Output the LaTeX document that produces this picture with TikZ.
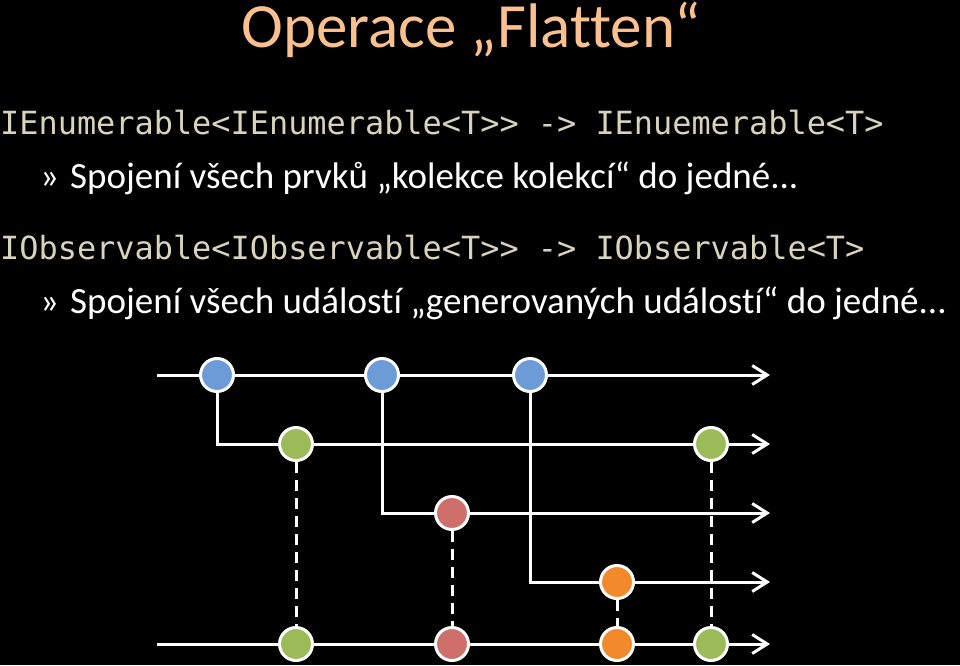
\documentclass[tikz,border=0pt]{standalone}
\usepackage{fontspec}
\setmainfont{Carlito}[Ligatures={TeX,NoCommon}]
\setmonofont{DejaVu Sans Mono}
\usetikzlibrary{arrows.meta,backgrounds}

\definecolor{titleorange}{HTML}{FAC090}
\definecolor{codetan}{HTML}{D8D4BC}
\definecolor{evblue}{HTML}{6C9BD8}
\definecolor{evgreen}{HTML}{9BBB59}
\definecolor{evred}{HTML}{CF6F6C}
\definecolor{evorange}{HTML}{F28A2C}

\begin{document}
\begin{tikzpicture}[x=1pt, y=-1pt,
    ev/.style={circle, draw=white, line width=3pt, minimum size=33pt, inner sep=0pt},
    flow/.style={draw=white, line width=3pt, -{Straight Barb[length=15pt,width=19pt]}},
    link/.style={draw=white, line width=3pt, dash pattern=on 11pt off 7pt},
    sig/.style={anchor=base west, inner sep=0pt, text=codetan, font=\ttfamily\fontsize{31.9}{36}\selectfont},
    item/.style={anchor=base west, inner sep=0pt, text=white, font=\fontsize{37}{44}\selectfont}]
    \useasboundingbox (0,0) rectangle (960,665);

    % texts
    \node[anchor=base, inner sep=0pt, text=titleorange, font=\fontsize{63}{70}\selectfont] (title) at (471,47) {Operace „Flatten“};
    \node[sig] (sigenum) at (0,134) {IEnumerable<IEnumerable<T>> -> IEnuemerable<T>};
    \node[item] (itemenum) at (40,188) {\makebox[30pt][l]{»}Spojení všech prvků „kolekce kolekcí“ do jedné...};
    \node[sig] (sigobs) at (0,259) {IObservable<IObservable<T>> -> IObservable<T>};
    \node[item] (itemobs) at (40,313) {\makebox[30pt][l]{»}Spojení všech událostí „generovaných událostí“ do jedné...};

    % events of the outer stream
    \node[ev, fill=evblue] (b1) at (217,375) {};
    \node[ev, fill=evblue] (b2) at (382,375) {};
    \node[ev, fill=evblue] (b3) at (530,375) {};
    % events of the inner streams
    \node[ev, fill=evgreen] (g1) at (296,444) {};
    \node[ev, fill=evgreen] (g2) at (711,444) {};
    \node[ev, fill=evred] (r1) at (452,513) {};
    \node[ev, fill=evorange] (o1) at (617,582) {};
    % flattened stream
    \node[ev, fill=evgreen] (fg1) at (296,644) {};
    \node[ev, fill=evred] (fr1) at (452,644) {};
    \node[ev, fill=evorange] (fo1) at (617,644) {};
    \node[ev, fill=evgreen] (fg2) at (711,644) {};

    \coordinate (start1) at (157,375);
    \coordinate (start5) at (157,644);
    \coordinate (end1) at (770,375);
    \coordinate (end2) at (770,444);
    \coordinate (end3) at (770,513);
    \coordinate (end4) at (770,582);
    \coordinate (end5) at (770,644);

    \begin{scope}[on background layer]
        \fill[black] (0,0) rectangle (960,665);
        \draw[flow] (start1) -- (end1);
        \draw[flow] (b1) |- (end2);
        \draw[flow] (b2) |- (end3);
        \draw[flow] (b3) |- (end4);
        \draw[flow] (start5) -- (end5);

        \draw[link] (g1) -- (fg1);
        \draw[link] (r1) -- (fr1);
        \draw[link] (o1) -- (fo1);
        \draw[link] (g2) -- (fg2);
    \end{scope}
\end{tikzpicture}
\end{document}
